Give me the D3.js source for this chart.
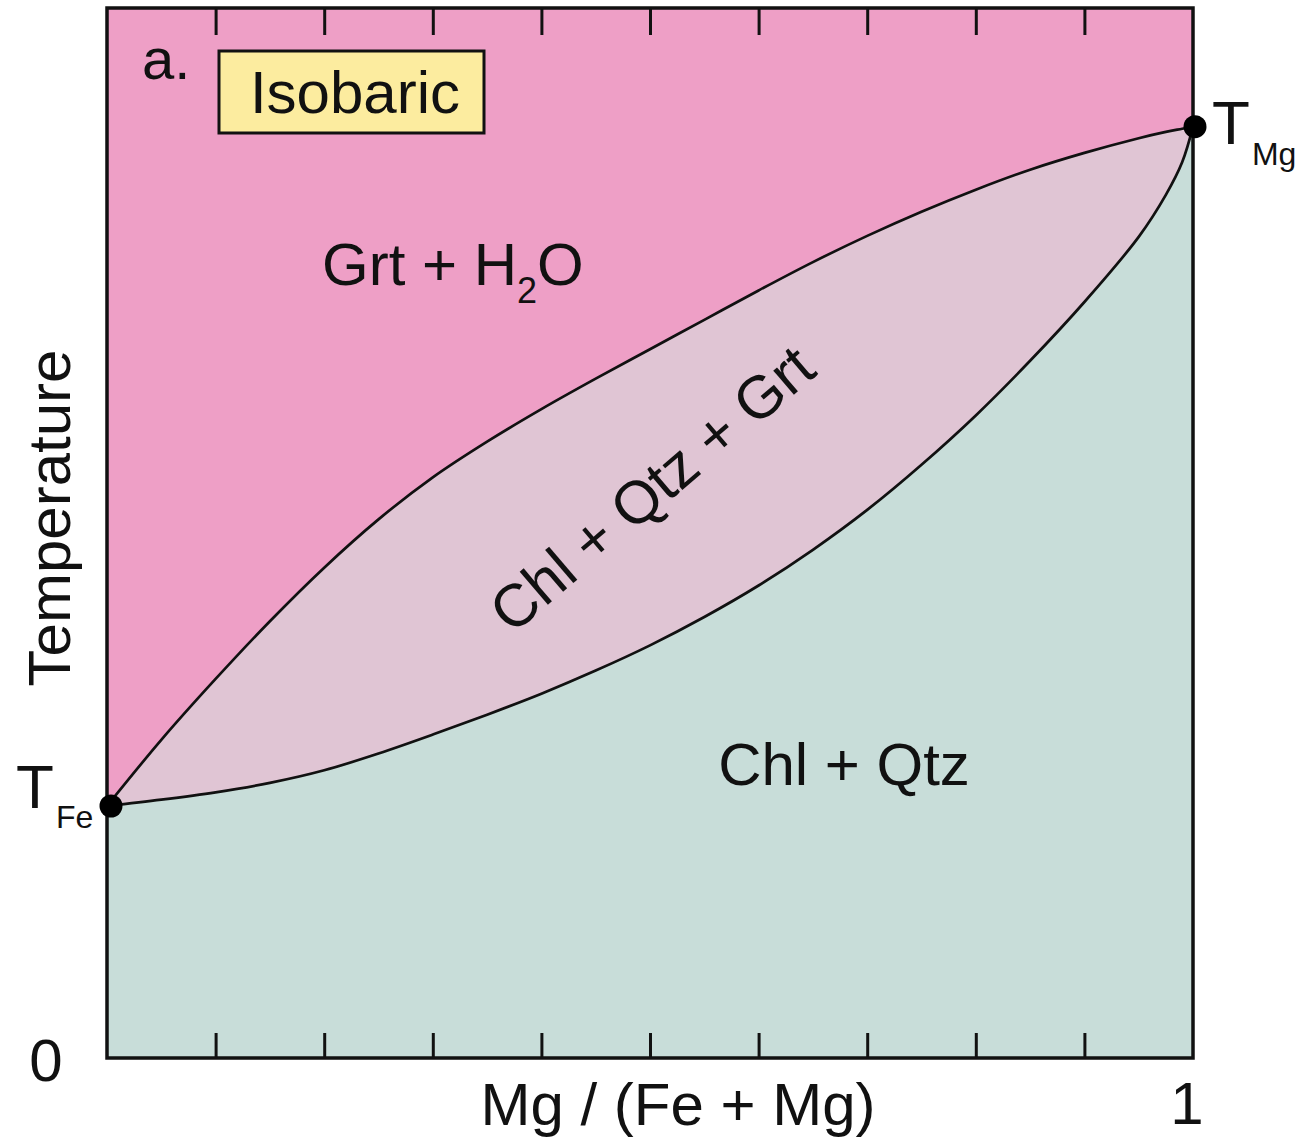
<!DOCTYPE html>
<html>
<head>
<meta charset="utf-8">
<script src="https://cdn.jsdelivr.net/npm/d3@7"></script>
<style>
  html, body { margin: 0; padding: 0; background: #ffffff; }
  svg { display: block; }
  text { font-family: "Liberation Sans", Arial, Helvetica, sans-serif; fill: #111; }
</style>
</head>
<body>
<svg id="chart" width="1316" height="1142"></svg>
<script>
// Composition Mg/(Fe+Mg) sampled along both phase boundaries
const xMg = [0, 0.05, 0.1, 0.15, 0.2, 0.25, 0.3, 0.35, 0.4, 0.45, 0.5, 0.55,
             0.6, 0.65, 0.7, 0.75, 0.8, 0.85, 0.9, 0.95, 0.975, 0.99, 1];

// Upper boundary: garnet + H2O stability (relative temperature)
const upperT = [0.240, 0.303, 0.361, 0.416, 0.467, 0.513, 0.553, 0.587, 0.618, 0.647, 0.675, 0.703,
                0.731, 0.758, 0.783, 0.806, 0.827, 0.846, 0.862, 0.876, 0.882, 0.885, 0.887];

// Lower boundary: chlorite + quartz stability (relative temperature)
const lowerT = [0.240, 0.246, 0.253, 0.262, 0.274, 0.290, 0.308, 0.327, 0.347, 0.369, 0.393, 0.420,
                0.450, 0.484, 0.522, 0.565, 0.612, 0.664, 0.720, 0.782, 0.822, 0.853, 0.887];

// End-member melting points
const endNames = ["Fe", "Mg"];
const endX = [0, 1];
const endT = [0.240, 0.887];

// Axis tick positions and labels
const tickValues = [0.1, 0.2, 0.3, 0.4, 0.5, 0.6, 0.7, 0.8, 0.9];
const tickLabels = ["0", "1"];

// Field labels
const fieldLabels = ["Grt + H", "Chl + Qtz + Grt", "Chl + Qtz"];

const svg = d3.select("#chart");
const m = { left: 107, right: 1193, top: 8, bottom: 1058 };

const x = d3.scaleLinear().domain([0, 1]).range([m.left, m.right]);
const y = d3.scaleLinear().domain([0, 1]).range([m.bottom, m.top]);

const pts = xMg.map((v, i) => ({ x: v, up: upperT[i], lo: lowerT[i] }));
const curve = d3.curveCatmullRom.alpha(0.5);

// Grt + H2O field: above the upper boundary
svg.append("path")
  .datum(pts)
  .attr("d", d3.area().curve(curve).x(d => x(d.x)).y0(y(1)).y1(d => y(d.up)))
  .attr("fill", "#ee9fc6");

// Chl + Qtz + Grt field: between the two boundaries
svg.append("path")
  .datum(pts)
  .attr("d", d3.area().curve(curve).x(d => x(d.x)).y0(d => y(d.lo)).y1(d => y(d.up)))
  .attr("fill", "#e0c5d4");

// Chl + Qtz field: below the lower boundary
svg.append("path")
  .datum(pts)
  .attr("d", d3.area().curve(curve).x(d => x(d.x)).y0(y(0)).y1(d => y(d.lo)))
  .attr("fill", "#c8ddd9");

// Boundary lines
const line = key => d3.line().curve(curve).x(d => x(d.x)).y(d => y(d[key]));
["up", "lo"].forEach(k => {
  svg.append("path")
    .datum(pts)
    .attr("d", line(k))
    .attr("fill", "none")
    .attr("stroke", "#111")
    .attr("stroke-width", 2.7);
});

// Inward ticks on top and bottom edges
const axTop = d3.axisTop(x).tickValues(tickValues).tickSize(-27).tickFormat("");
const axBot = d3.axisBottom(x).tickValues(tickValues).tickSize(-25).tickFormat("");
svg.append("g").attr("transform", `translate(0,${m.top})`).call(axTop)
  .call(g => g.select(".domain").remove())
  .selectAll("line").attr("stroke", "#111").attr("stroke-width", 3);
svg.append("g").attr("transform", `translate(0,${m.bottom})`).call(axBot)
  .call(g => g.select(".domain").remove())
  .selectAll("line").attr("stroke", "#111").attr("stroke-width", 3);

// Frame
svg.append("rect")
  .attr("x", m.left).attr("y", m.top)
  .attr("width", m.right - m.left).attr("height", m.bottom - m.top)
  .attr("fill", "none").attr("stroke", "#111").attr("stroke-width", 3.5);

// End-member points
svg.selectAll("circle.end")
  .data(endX.map((v, i) => ({ x: v, t: endT[i], name: endNames[i] })))
  .join("circle")
  .attr("class", "end")
  .attr("cx", d => x(d.x) + (d.x === 0 ? 4 : 2))
  .attr("cy", d => y(d.t))
  .attr("r", 11.5)
  .attr("fill", "#000");

// T_Fe label
const tFe = svg.append("text").attr("x", 16).attr("y", y(endT[0]) + 2).attr("font-size", 62);
tFe.append("tspan").text("T");
tFe.append("tspan").attr("dy", 20).attr("font-size", 32).attr("dx", 2).text(endNames[0]);

// T_Mg label
const tMg = svg.append("text").attr("x", 1212).attr("y", y(endT[1]) + 17).attr("font-size", 62);
tMg.append("tspan").text("T");
tMg.append("tspan").attr("dy", 21).attr("font-size", 32).attr("dx", 2).text(endNames[1]);

// Axis end labels
svg.append("text").attr("x", 46).attr("y", 1081).attr("text-anchor", "middle")
  .attr("font-size", 60).text(tickLabels[0]);
svg.append("text").attr("x", x(1) - 6).attr("y", 1124).attr("text-anchor", "middle")
  .attr("font-size", 60).text(tickLabels[1]);

// Axis titles
svg.append("text").attr("x", 678).attr("y", 1125).attr("text-anchor", "middle")
  .attr("font-size", 60).text("Mg / (Fe + Mg)");
svg.append("text")
  .attr("transform", "translate(70,518) rotate(-90)")
  .attr("text-anchor", "middle")
  .attr("font-size", 60).text("Temperature");

// Panel letter and condition box
svg.append("text").attr("x", 142).attr("y", 79).attr("font-size", 58).text("a.");
svg.append("rect")
  .attr("x", 219).attr("y", 51).attr("width", 265).attr("height", 82)
  .attr("fill", "#fcec9f").attr("stroke", "#111").attr("stroke-width", 3);
svg.append("text").attr("x", 355).attr("y", 113).attr("text-anchor", "middle")
  .attr("font-size", 60).text("Isobaric");

// Field labels
const grt = svg.append("text").attr("x", 322).attr("y", 285).attr("font-size", 60);
grt.append("tspan").text(fieldLabels[0]);
grt.append("tspan").attr("dy", 18).attr("font-size", 36).text("2");
grt.append("tspan").attr("dy", -18).text("O");

svg.append("text")
  .attr("transform", "translate(652,489) rotate(-40.5)")
  .attr("text-anchor", "middle").attr("dominant-baseline", "central")
  .attr("font-size", 60).text(fieldLabels[1]);

svg.append("text").attr("x", 844).attr("y", 785).attr("text-anchor", "middle")
  .attr("font-size", 60).text(fieldLabels[2]);
</script>
</body>
</html>
